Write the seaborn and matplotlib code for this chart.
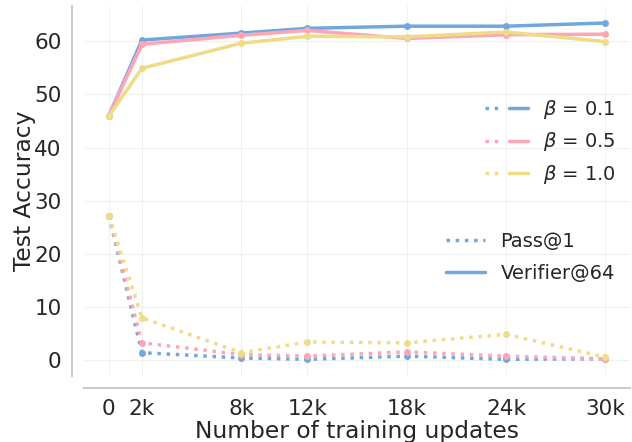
import matplotlib
matplotlib.use("Agg")
import matplotlib.pyplot as plt
import seaborn as sns
from matplotlib.lines import Line2D
from matplotlib.legend_handler import HandlerTuple

# training steps
steps = [0, 2000, 8000, 12000, 18000, 24000, 30000]
tick_labels = ["0", "2k", "8k", "12k", "18k", "24k", "30k"]
betas = ["0.1", "0.5", "1.0"]

# Verifier@64 accuracy
verifier_b01 = [46.0, 60.2, 61.5, 62.4, 62.8, 62.8, 63.4]
verifier_b05 = [46.0, 59.4, 61.1, 62.0, 60.5, 61.2, 61.3]
verifier_b10 = [45.9, 54.9, 59.6, 60.9, 60.8, 61.7, 59.9]

# Pass@1 accuracy
pass_b01 = [27.2, 1.45, 0.45, 0.2, 0.8, 0.2, 0.3]
pass_b05 = [27.2, 3.3, 1.1, 0.8, 1.6, 0.8, 0.3]
pass_b10 = [27.2, 8.0, 1.45, 3.45, 3.3, 4.9, 0.6]

colors = ["#72a7de", "#fea5b6", "#eedc86"]

sns.set_style("whitegrid", {"grid.color": "#f0f0f0", "axes.edgecolor": "#cccccc"})
plt.rcParams["font.family"] = ["DejaVu Sans"]

fig, ax = plt.subplots(figsize=(6.32, 4.42), dpi=100)
fig.subplots_adjust(left=0.133, right=0.997, bottom=0.149, top=0.986)

verifier = [verifier_b01, verifier_b05, verifier_b10]
passes = [pass_b01, pass_b05, pass_b10]

for c, v, p in zip(colors, verifier, passes):
    sns.lineplot(x=steps, y=v, ax=ax, color=c, lw=2.5, marker="o",
                 markersize=5, markeredgewidth=0)
    sns.lineplot(x=steps, y=p, ax=ax, color=c, lw=2.5, linestyle=":",
                 marker="o", markersize=5, markeredgewidth=0)

ax.set_xticks(steps)
ax.set_xticklabels(tick_labels)
ax.set_yticks([0, 10, 20, 30, 40, 50, 60])
ax.tick_params(labelsize=15.5, colors="#262626", pad=4)
ax.set_xlabel("Number of training updates", fontsize=16.8, color="#262626", labelpad=1)
ax.set_ylabel("Test Accuracy", fontsize=16.8, color="#262626", labelpad=-1)

sns.despine(ax=ax, offset=8.6)
for s in ["left", "bottom"]:
    ax.spines[s].set_linewidth(1.5)

# legend 1: beta values
handles1 = []
for c in colors:
    dot = Line2D([], [], color=c, lw=2.5, linestyle=":")
    sol = Line2D([], [], color=c, lw=2.5)
    handles1.append((dot, sol))
leg1 = ax.legend(handles1, [r"$\beta$ = " + b for b in betas],
                 handler_map={tuple: HandlerTuple(ndivide=None, pad=0.3)},
                 loc="upper right", bbox_to_anchor=(1.006, 0.80), frameon=False,
                 fontsize=14, handlelength=2.2, labelspacing=0.5)
ax.add_artist(leg1)

# legend 2: metric type
handles2 = [Line2D([], [], color=colors[0], lw=2.5, linestyle=":"),
            Line2D([], [], color=colors[0], lw=2.5)]
ax.legend(handles2, ["Pass@1", "Verifier@64"], loc="upper right",
          bbox_to_anchor=(1.004, 0.437), frameon=False, fontsize=14,
          handlelength=2.0, labelspacing=0.65)

fig.savefig("out.png", dpi=100)
